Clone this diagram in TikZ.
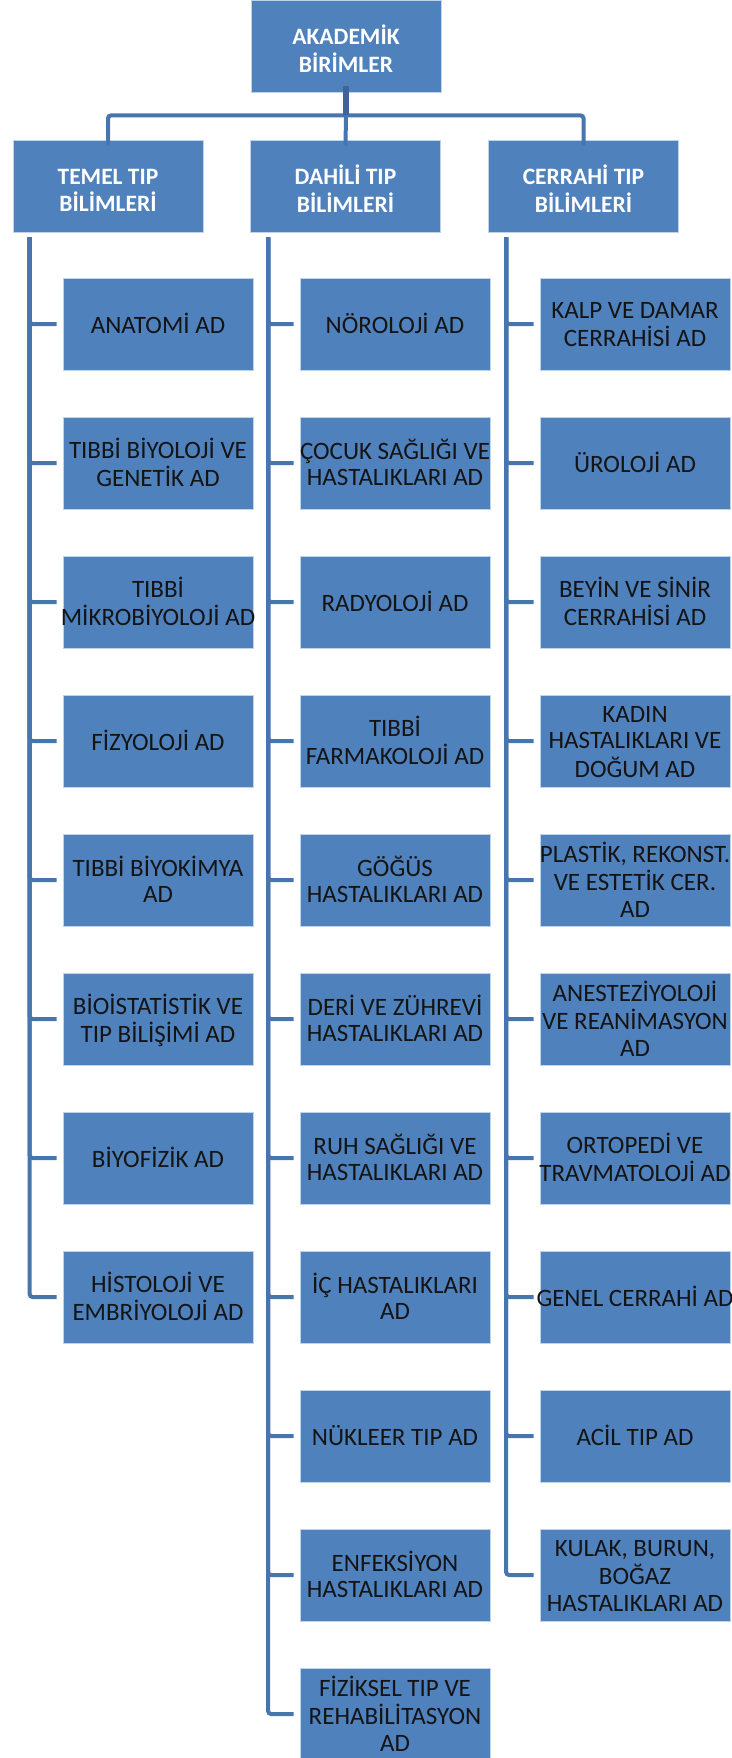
\documentclass[tikz,border=0pt]{standalone}
\usepackage{fontspec}
\setmainfont{Carlito}
\usepackage{tikz}
\usetikzlibrary{calc,positioning}

\definecolor{unitblue}{HTML}{4F81BD}
\definecolor{linkblue}{HTML}{4775AE}
\definecolor{stemblue}{HTML}{3E6499}
% lines may run past the box edge without widening it
\newcommand{\unitlines}[2][3.5pt]{\raisebox{-#1}[\height][\depth]{\makebox[0pt]{\begin{tabular}{@{}c@{}}#2\end{tabular}}}}

\begin{document}
\begin{tikzpicture}[
  x=1pt, y=-1pt,
  unit/.style={rectangle, draw=white!65!unitblue, line width=0.8pt, fill=unitblue, minimum width=190pt, minimum height=92pt, inner sep=0pt, text=black!92, font=\fontsize{25}{26.5}\selectfont, node contents={\unitlines{#1}}},
  head/.style={unit={#1}, text=white, font=\bfseries\fontsize{23.5}{27}\selectfont, node contents={\unitlines[6.5pt]{#1}}},
  link/.style={draw=linkblue, line width=4pt, rounded corners=3pt}
]
  \useasboundingbox (0,0) rectangle (731,1758);
  % top of the tree
  \node (akad) at (346, 46) [head={AKADEMİK\\BİRİMLER}];
  \node (temel) at (108, 186) [head={TEMEL TIP\\BİLİMLERİ}];
  \node (dahili) at (345.5, 186) [head={DAHİLİ TIP\\BİLİMLERİ}];
  \node (cerrahi) at (583.5, 186) [head={CERRAHİ TIP\\BİLİMLERİ}];
  % temel tip column
  \node (t1) at (158, 324)  [unit={ANATOMİ AD}];
  \node (t2) at (158, 463)  [unit={TIBBİ BİYOLOJİ VE\\GENETİK AD}];
  \node (t3) at (158, 602)  [unit={TIBBİ\\MİKROBİYOLOJİ AD}];
  \node (t4) at (158, 741)  [unit={FİZYOLOJİ AD}];
  \node (t5) at (158, 880)  [unit={TIBBİ BİYOKİMYA\\AD}];
  \node (t6) at (158, 1019) [unit={BİOİSTATİSTİK VE\\TIP BİLİŞİMİ AD}];
  \node (t7) at (158, 1158) [unit={BİYOFİZİK AD}];
  \node (t8) at (158, 1297) [unit={HİSTOLOJİ VE\\EMBRİYOLOJİ AD}];
  % dahili tip column
  \node (d1)  at (395, 324)  [unit={NÖROLOJİ AD}];
  \node (d2)  at (395, 463)  [unit={ÇOCUK SAĞLIĞI VE\\HASTALIKLARI AD}];
  \node (d3)  at (395, 602)  [unit={RADYOLOJİ AD}];
  \node (d4)  at (395, 741)  [unit={TIBBİ\\FARMAKOLOJİ AD}];
  \node (d5)  at (395, 880)  [unit={GÖĞÜS\\HASTALIKLARI AD}];
  \node (d6)  at (395, 1019) [unit={DERİ VE ZÜHREVİ\\HASTALIKLARI AD}];
  \node (d7)  at (395, 1158) [unit={RUH SAĞLIĞI VE\\HASTALIKLARI AD}];
  \node (d8)  at (395, 1297) [unit={İÇ HASTALIKLARI\\AD}];
  \node (d9)  at (395, 1436) [unit={NÜKLEER TIP AD}];
  \node (d10) at (395, 1575) [unit={ENFEKSİYON\\HASTALIKLARI AD}];
  \node (d11) at (395, 1714) [unit={FİZİKSEL TIP VE\\REHABİLİTASYON\\AD}];
  % cerrahi tip column
  \node (c1)  at (635, 324)  [unit={KALP VE DAMAR\\CERRAHİSİ AD}];
  \node (c2)  at (635, 463)  [unit={ÜROLOJİ AD}];
  \node (c3)  at (635, 602)  [unit={BEYİN VE SİNİR\\CERRAHİSİ AD}];
  \node (c4)  at (635, 741)  [unit={KADIN\\HASTALIKLARI VE\\DOĞUM AD}];
  \node (c5)  at (635, 880)  [unit={PLASTİK, REKONST.\\VE ESTETİK CER.\\AD}];
  \node (c6)  at (635, 1019) [unit={ANESTEZİYOLOJİ\\VE REANİMASYON\\AD}];
  \node (c7)  at (635, 1158) [unit={ORTOPEDİ VE\\TRAVMATOLOJİ AD}];
  \node (c8)  at (635, 1297) [unit={GENEL CERRAHİ AD}];
  \node (c9)  at (635, 1436) [unit={ACİL TIP AD}];
  \node (c10) at (635, 1575) [unit={KULAK, BURUN,\\BOĞAZ\\HASTALIKLARI AD}];
  % bracket under the top box
  \coordinate (bar) at ($(akad.south)+(0,23)$);
  \draw[link] ([yshift=-6pt]temel.north) |- (bar) -| ([yshift=-6pt]cerrahi.north);
  \draw[link] (bar) -- ([yshift=-6pt]dahili.north);
  \draw[draw=stemblue, line width=6pt] ([yshift=6pt]akad.south) -- (bar);
  % spines down each column
  \coordinate (tspine) at ($(temel.south west)+(17,5)$);
  \coordinate (dspine) at ($(dahili.south west)+(18,5)$);
  \coordinate (cspine) at ($(cerrahi.south west)+(18,5)$);
  \foreach \k in {1,...,8}  \draw[link] (tspine) |- ([xshift=-6pt]t\k.west);
  \foreach \k in {1,...,11} \draw[link] (dspine) |- ([xshift=-6pt]d\k.west);
  \foreach \k in {1,...,10} \draw[link] (cspine) |- ([xshift=-6pt]c\k.west);
\end{tikzpicture}
\end{document}
